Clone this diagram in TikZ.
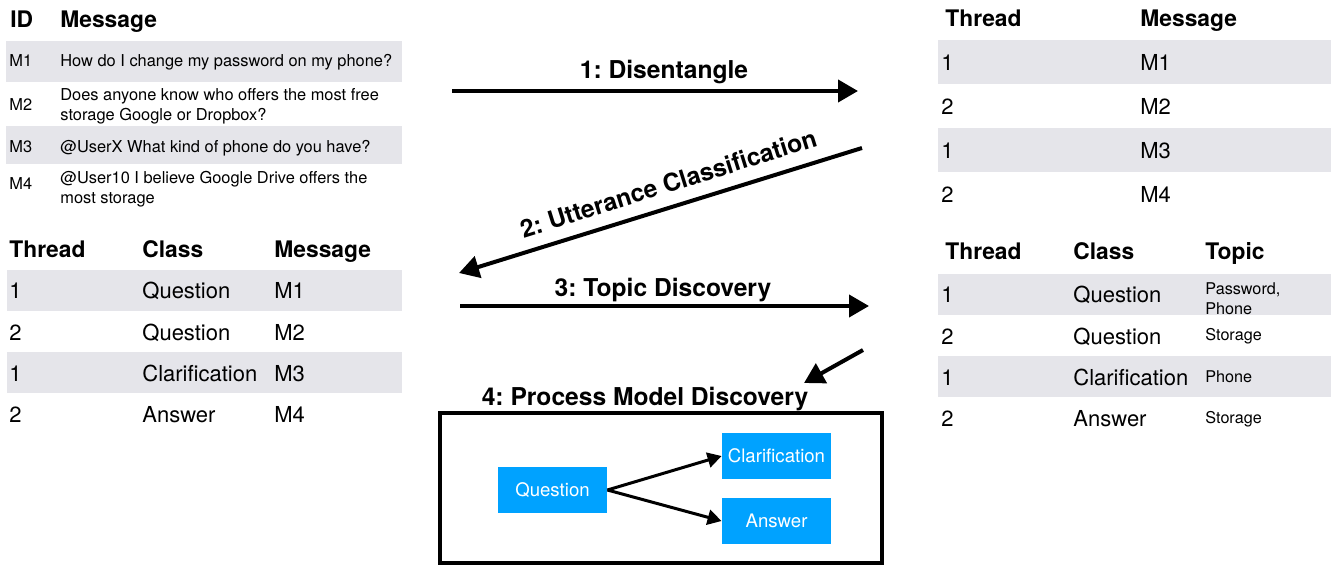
\documentclass[tikz,border=0pt]{standalone}
\usepackage{fontspec}
\setmainfont{TeX Gyre Heros}
\usepackage{xcolor}
\usepackage{tikz}
\usetikzlibrary{positioning, arrows.meta}
\definecolor{rowgray}{RGB}{229,229,234}
\definecolor{procblue}{RGB}{0,162,255}
\frenchspacing

\begin{document}
\begin{tikzpicture}[x=0.5pt, y=-0.5pt,
    hdr/.style={anchor=base west, inner sep=0pt, font=\bfseries\fontsize{11.4}{13}\selectfont},
    cell/.style={anchor=base west, inner sep=0pt, font=\fontsize{11}{13}\selectfont},
    small/.style={anchor=base west, inner sep=0pt, align=left, font=\fontsize{8.2}{10}\selectfont},
    steplbl/.style={anchor=base, inner sep=0pt, font=\bfseries\fontsize{12.3}{14}\selectfont},
    flow/.style={line width=2pt, -{Triangle[length=10pt, width=11pt]}},
    procbox/.style={fill=procblue, text=white, minimum width=54.5pt, minimum height=23pt, inner sep=0pt, font=\fontsize{9.3}{11}\selectfont},
    procarrow/.style={line width=1.5pt, -{Triangle[length=7pt, width=7.5pt]}}]

   \useasboundingbox (0,0) rectangle (1331,566);

   % Row shading (always first!)
   \fill[rowgray] (6,41) rectangle (402,82);
   \fill[rowgray] (6,126) rectangle (402,164);
   \fill[rowgray] (7,270) rectangle (402,311);
   \fill[rowgray] (7,352) rectangle (402,393);
   \fill[rowgray] (938,40) rectangle (1331,84);
   \fill[rowgray] (938,128) rectangle (1331,172);
   \fill[rowgray] (938,274) rectangle (1331,315);
   \fill[rowgray] (938,356) rectangle (1331,397);

   % Raw messages
   \node (lt-id) [hdr] at (10,28) {ID};
   \node (lt-msg) [hdr] at (60,28) {Message};
   \node (lt-m1) [small] at (9,67) {M1};
   \node (lt-x1) [small] at (60,67) {How do I change my password on my phone?};
   \node (lt-m2) [small] at (9,111) {M2};
   \node (lt-x2) [small, anchor=west] at (60,106) {Does anyone know who offers the most free\\storage Google or Dropbox?};
   \node (lt-m3) [small] at (9,153) {M3};
   \node (lt-x3) [small] at (60,153) {@UserX What kind of phone do you have?};
   \node (lt-m4) [small] at (9,190) {M4};
   \node (lt-x4) [small, anchor=west] at (60,189) {@User10 I believe Google Drive offers the\\most storage};

   % Classified messages
   \node (lb-thr) [hdr] at (9,258) {Thread};
   \node (lb-cls) [hdr] at (142,258) {Class};
   \node (lb-msg) [hdr] at (274,258) {Message};
   \node (lb-t1) [cell] at (9,299) {1};
   \node (lb-c1) [cell] at (142,299) {Question};
   \node (lb-m1) [cell] at (274,299) {M1};
   \node (lb-t2) [cell] at (9,340) {2};
   \node (lb-c2) [cell] at (142,340) {Question};
   \node (lb-m2) [cell] at (274,340) {M2};
   \node (lb-t3) [cell] at (9,381) {1};
   \node (lb-c3) [cell] at (142,381) {Clarification};
   \node (lb-m3) [cell] at (274,381) {M3};
   \node (lb-t4) [cell] at (9,422) {2};
   \node (lb-c4) [cell] at (142,422) {Answer};
   \node (lb-m4) [cell] at (274,422) {M4};

   % Threads
   \node (rt-thr) [hdr] at (945,27) {Thread};
   \node (rt-msg) [hdr] at (1140,27) {Message};
   \node (rt-t1) [cell] at (941,71) {1};
   \node (rt-m1) [cell] at (1140,71) {M1};
   \node (rt-t2) [cell] at (941,115) {2};
   \node (rt-m2) [cell] at (1140,115) {M2};
   \node (rt-t3) [cell] at (941,159) {1};
   \node (rt-m3) [cell] at (1140,159) {M3};
   \node (rt-t4) [cell] at (941,203) {2};
   \node (rt-m4) [cell] at (1140,203) {M4};

   % Topics
   \node (rb-thr) [hdr] at (945,260) {Thread};
   \node (rb-cls) [hdr] at (1073,260) {Class};
   \node (rb-top) [hdr] at (1205,260) {Topic};
   \node (rb-t1) [cell] at (941,303) {1};
   \node (rb-c1) [cell] at (1073,303) {Question};
   \node (rb-p1) [small, anchor=west, font=\fontsize{8.1}{10}\selectfont] at (1205,299) {Password,\\Phone};
   \node (rb-t2) [cell] at (941,344) {2};
   \node (rb-c2) [cell] at (1073,344) {Question};
   \node (rb-p2) [small, font=\fontsize{8.1}{10}\selectfont] at (1205,341) {Storage};
   \node (rb-t3) [cell] at (941,385) {1};
   \node (rb-c3) [cell] at (1073,385) {Clarification};
   \node (rb-p3) [small, font=\fontsize{8.1}{10}\selectfont] at (1205,382) {Phone};
   \node (rb-t4) [cell] at (941,426) {2};
   \node (rb-c4) [cell] at (1073,426) {Answer};
   \node (rb-p4) [small, font=\fontsize{8.1}{10}\selectfont] at (1205,423) {Storage};

   % Steps
   \coordinate (s1a) at (452,91);
   \coordinate (s1b) at (858,91);
   \coordinate (s2a) at (862,148);
   \coordinate (s2b) at (459,273);
   \coordinate (s3a) at (460,306);
   \coordinate (s3b) at (869,306);
   \coordinate (s4a) at (863,350);
   \coordinate (s4b) at (804,383);
   \draw[flow] (s1a) -- (s1b);
   \draw[flow] (s2a) -- (s2b);
   \draw[flow] (s3a) -- (s3b);
   \draw[flow] (s4a) -- (s4b);
   \node (lbl1) [steplbl] at (664,79) {1: Disentangle};
   \node (lbl2) [steplbl, rotate=17.4] at (671,192) {2: Utterance Classification};
   \node (lbl3) [steplbl] at (663,297) {3: Topic Discovery};
   \node (lbl4) [steplbl] at (645,405) {4: Process Model Discovery};

   % Process model
   \draw[line width=2pt] (440,413) rectangle (882,563);
   \node (q) [procbox] at (552.5,490) {Question};
   \node (clar) [procbox] at (776.5,456) {Clarification};
   \node (ans) [procbox] at (776.5,521) {Answer};
   \draw[procarrow] (q.east) -- (clar.west);
   \draw[procarrow] (q.east) -- (ans.west);
\end{tikzpicture}
\end{document}
